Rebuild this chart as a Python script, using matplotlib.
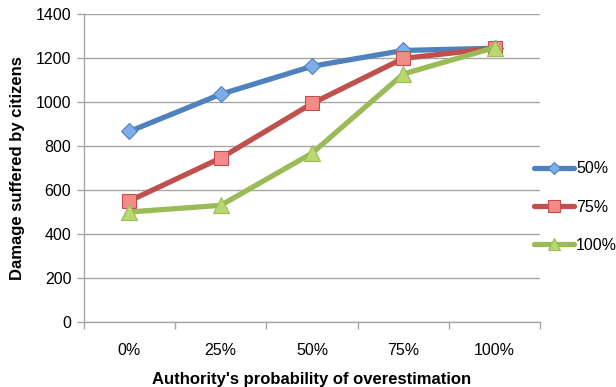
import matplotlib
matplotlib.use("Agg")
import matplotlib.pyplot as plt
import numpy as np

categories = ["0%", "25%", "50%", "75%", "100%"]
series_names = ["50%", "75%", "100%"]
s50 = [866, 1035, 1162, 1234, 1244]
s75 = [550, 745, 993, 1198, 1244]
s100 = [500, 530, 767, 1127, 1247]

plt.rcParams['font.family'] = ['Liberation Sans', 'DejaVu Sans']

fig = plt.figure(figsize=(6.16, 3.87), dpi=100)
ax = fig.add_axes([0.136, 0.168, 0.741, 0.796])

x = np.arange(len(categories))
styles = [
    (s50, "#4F81BD", "#7DAEE8", "D", 8),
    (s75, "#C0504D", "#F58A87", "s", 10),
    (s100, "#9BBB59", "#B7D96E", "^", 11),
]
for (vals, lc, fc, m, ms), name in zip(styles, series_names):
    ax.plot(x, vals, color=lc, lw=3.8, marker=m, ms=ms, mfc=fc, mec=lc,
            mew=0.8, label=name, solid_capstyle='round', zorder=3)

ax.set_xlim(-0.5, len(categories) - 0.5)
ax.set_ylim(0, 1400)
ax.set_yticks(np.arange(0, 1401, 200))
ax.set_xticks(x)
ax.set_xticklabels(categories)
ax.set_xticks(np.arange(-0.5, len(categories), 1), minor=True)
ax.tick_params(axis='x', which='major', length=0, pad=15, labelsize=11.5)
ax.tick_params(axis='x', which='minor', length=5, color='#A6A6A6', width=1)
ax.tick_params(axis='y', length=5, color='#A6A6A6', width=1, labelsize=11.5, pad=4)
ax.grid(axis='y', color='#A6A6A6', lw=1)
ax.set_axisbelow(True)
for s in ['top', 'right']:
    ax.spines[s].set_visible(False)
for s in ['left', 'bottom']:
    ax.spines[s].set_color('#A6A6A6')
    ax.spines[s].set_linewidth(1)

ax.set_xlabel("Authority's probability of overestimation", fontsize=12,
              fontweight='bold', labelpad=10)
ax.set_ylabel("Damage suffered by citizens", fontsize=12, fontweight='bold',
              labelpad=8)

leg = fig.legend(loc='center left', bbox_to_anchor=(0.843, 0.465), frameon=False,
                 fontsize=11.5, handlelength=2.5, handletextpad=0.15,
                 labelspacing=1.45, markerscale=0.8)

fig.savefig("out.png", dpi=100)
